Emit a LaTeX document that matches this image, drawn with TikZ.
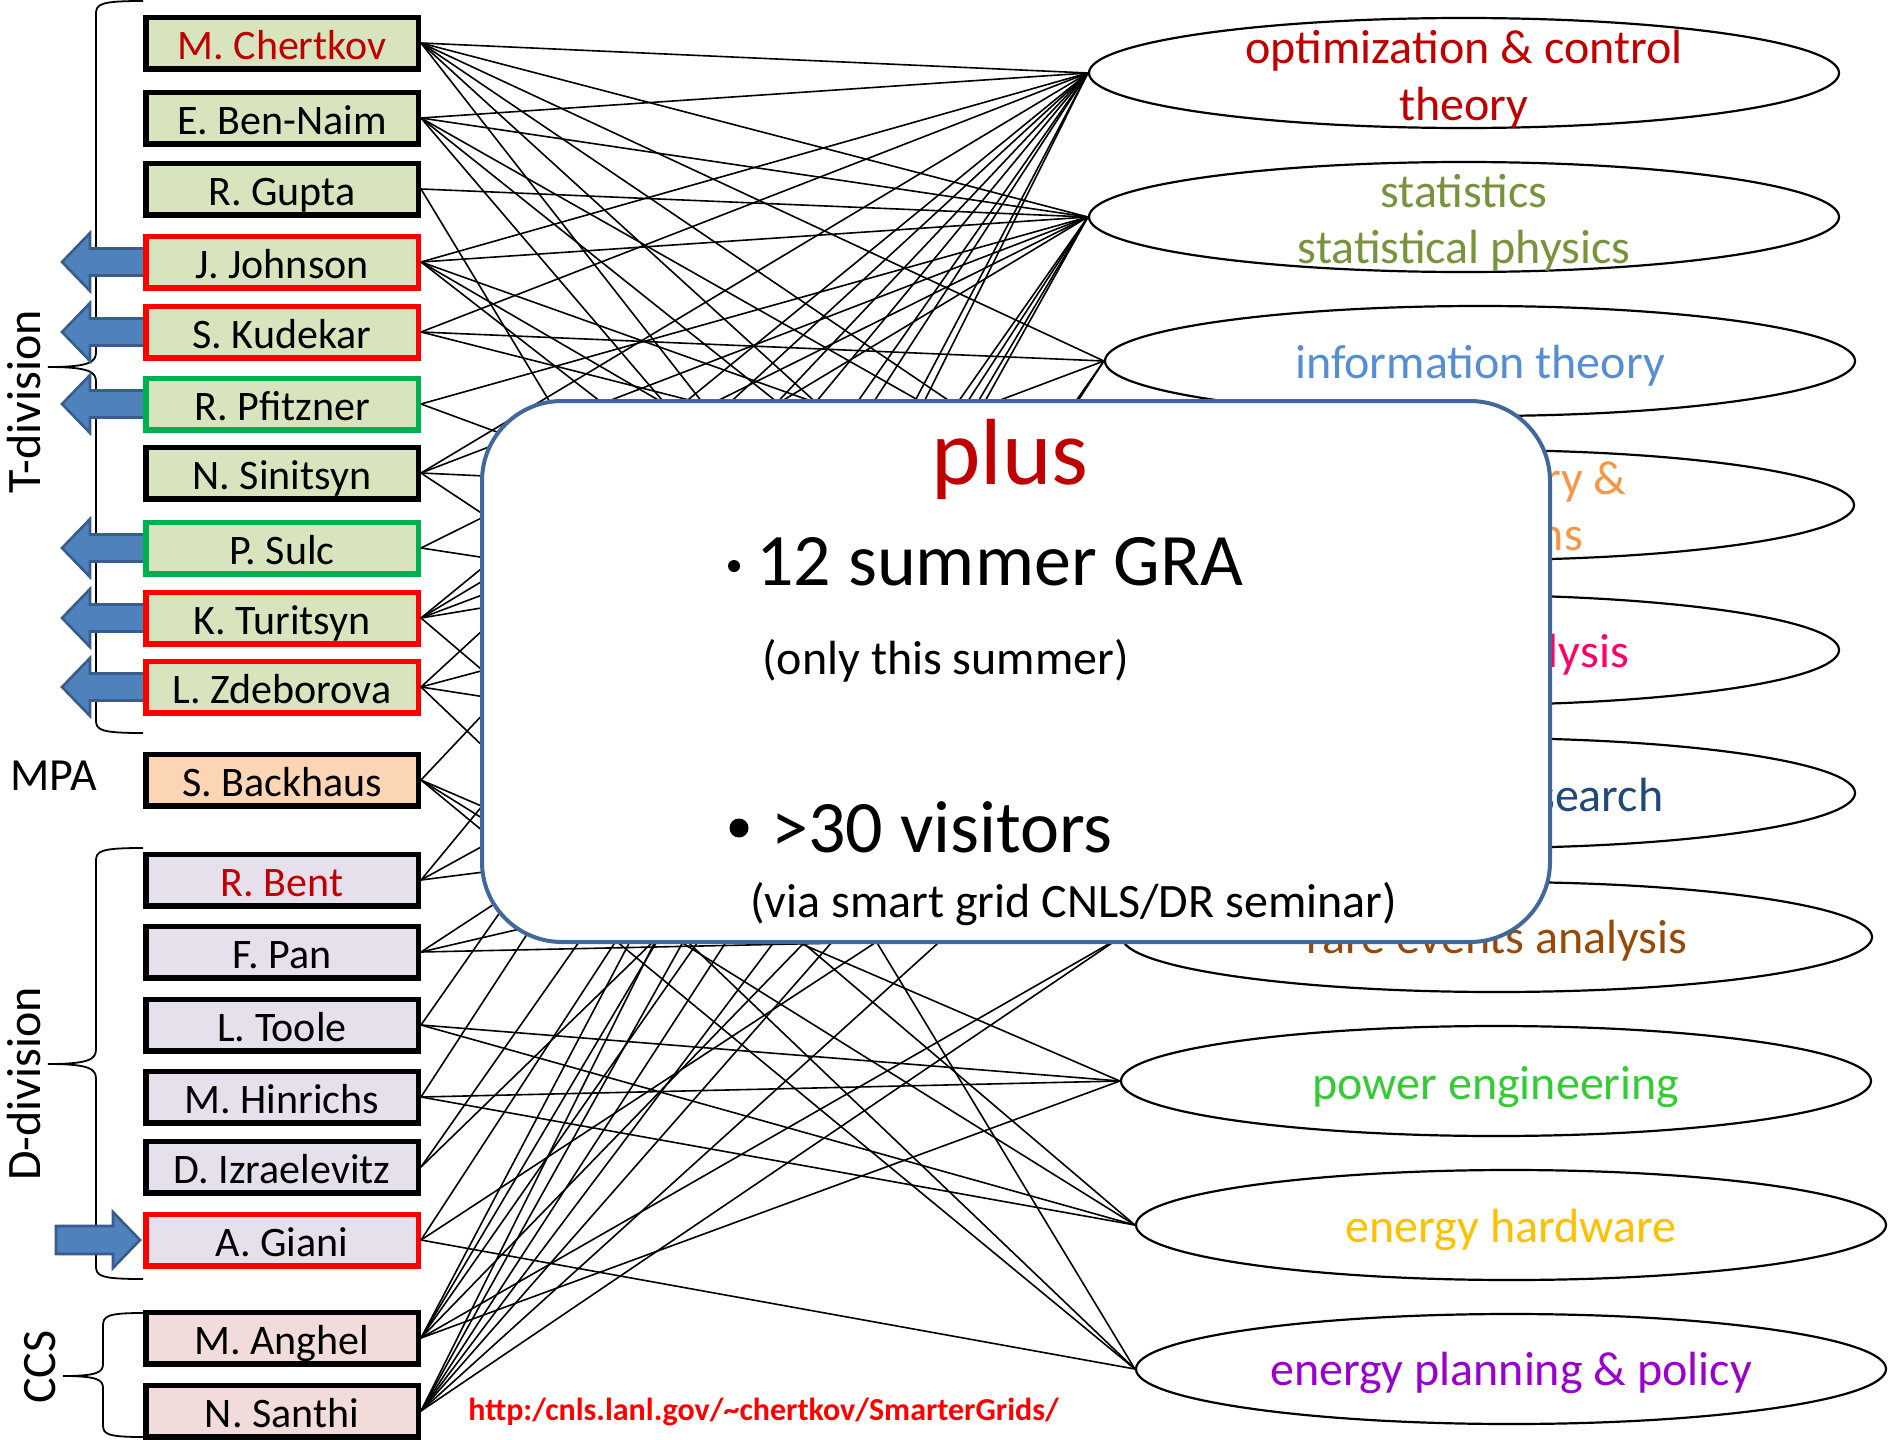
\documentclass[tikz,border=0pt]{standalone}
\usepackage{fontspec}
\setmainfont{Carlito}
\usetikzlibrary{shapes.geometric}
\definecolor{tfill}{HTML}{D7E4BD}
\definecolor{mfill}{HTML}{FCD5B5}
\definecolor{dfill}{HTML}{E6E0EC}
\definecolor{cfill}{HTML}{F2DCDB}
\definecolor{dred}{HTML}{C00000}
\definecolor{bred}{HTML}{FF0000}
\definecolor{bgreen}{HTML}{00B050}
\definecolor{arrblue}{HTML}{4F81BD}
\definecolor{arrline}{HTML}{385D8A}
\definecolor{boxline}{HTML}{41689A}
\definecolor{cstat}{HTML}{77933C}
\definecolor{cinfo}{HTML}{558ED5}
\definecolor{cgraph}{HTML}{F79646}
\definecolor{cnetw}{HTML}{FF0066}
\definecolor{coper}{HTML}{1F497D}
\definecolor{crare}{HTML}{984807}
\definecolor{cpower}{HTML}{33CC33}
\definecolor{chard}{HTML}{FFC000}
\definecolor{cplan}{HTML}{9900CC}
\begin{document}
\begin{tikzpicture}[x=0.5pt,y=-0.5pt,
  person/.style={draw,line width=2.75pt,minimum width=136.25pt,minimum height=25.75pt,
    inner sep=0pt,text height=16pt,text depth=0pt,font=\fontsize{21}{25}\selectfont},
  topic/.style={draw,ellipse,line width=1.1pt,minimum width=375pt,minimum height=55pt,inner sep=0pt},
  ttext/.style={anchor=base,inner sep=0pt,font=\fontsize{24}{29}\selectfont},
  link/.style={line width=0.8pt},
  bigarrow/.style={fill=arrblue,draw=arrline,line width=1.3pt,line join=miter},
  brace/.style={line width=0.9pt},
  grp/.style={anchor=base,inner sep=0pt,font=\fontsize{24}{29}\selectfont},
  plusbox/.style={draw=boxline,fill=white,line width=2pt,rounded corners=40pt,
    minimum width=534pt,minimum height=270.5pt},
  dot/.style={circle,fill=black,inner sep=0pt}]
\useasboundingbox (0,0) rectangle (1897,1440);
\def\outarrow#1{\draw[bigarrow] (62,#1) -- (90,#1-29) -- (90,#1-13.5) -- (147,#1-13.5)
  -- (147,#1+13.5) -- (90,#1+13.5) -- (90,#1+29) -- cycle;}

% braces and group names
\draw[brace] (143,1) .. controls (100,1) and (96,4) .. (96,14) -- (96,352)
  .. controls (96,362) and (90,367) .. (48,367) .. controls (90,367) and (96,372) .. (96,382)
  -- (96,720) .. controls (96,730) and (100,733) .. (143,733);
\draw[brace] (143,848) .. controls (100,848) and (96,851) .. (96,861) -- (96,1049)
  .. controls (96,1059) and (90,1064) .. (48,1064) .. controls (90,1064) and (96,1069) .. (96,1079)
  -- (96,1266) .. controls (96,1276) and (100,1279) .. (143,1279);
\draw[brace] (143,1313) .. controls (107,1313) and (103,1316) .. (103,1326) -- (103,1364)
  .. controls (103,1372) and (98,1376) .. (63,1376) .. controls (98,1376) and (103,1380) .. (103,1388)
  -- (103,1425) .. controls (103,1434) and (107,1437) .. (143,1437);
\node[grp,rotate=90] (tdiv) at (40,402) {T-division};
\node[grp,rotate=90] (ddiv) at (40,1084) {D-division};
\node[grp,rotate=90] (ccs) at (55,1367) {CCS};
\node[anchor=base west,inner sep=0pt,font=\fontsize{23}{28}\selectfont] (mpa) at (10,790) {MPA};

% blue arrows
\outarrow{262} \outarrow{332} \outarrow{404} \outarrow{548} \outarrow{618} \outarrow{687}
\draw[bigarrow] (140,1240) -- (113,1212) -- (113,1226) -- (56,1226) -- (56,1254)
  -- (113,1254) -- (113,1268) -- cycle;

% people
\node[person,fill=tfill] (MC) at (282,43) {\textcolor{dred}{M. Chertkov}};
\node[person,fill=tfill] (EB) at (282,118) {E. Ben-Naim};
\node[person,fill=tfill] (RG) at (282,189) {R. Gupta};
\node[person,fill=tfill,draw=bred] (JJ) at (282,262) {J. Johnson};
\node[person,fill=tfill,draw=bred] (SK) at (282,332) {S. Kudekar};
\node[person,fill=tfill,draw=bgreen] (RP) at (282,404) {R. Pfitzner};
\node[person,fill=tfill] (NSi) at (282,473) {N. Sinitsyn};
\node[person,fill=tfill,draw=bgreen] (PS) at (282,548) {P. Sulc};
\node[person,fill=tfill,draw=bred] (KT) at (282,618) {K. Turitsyn};
\node[person,fill=tfill,draw=bred] (LZ) at (282,687) {L. Zdeborova};
\node[person,fill=mfill] (SB) at (282,780) {S. Backhaus};
\node[person,fill=dfill] (RB) at (282,880) {\textcolor{dred}{R. Bent}};
\node[person,fill=dfill] (FP) at (282,952) {F. Pan};
\node[person,fill=dfill] (LT) at (282,1025) {L. Toole};
\node[person,fill=dfill] (MH) at (282,1097) {M. Hinrichs};
\node[person,fill=dfill] (DI) at (282,1167) {D. Izraelevitz};
\node[person,fill=dfill,draw=bred] (AG) at (282,1240) {A. Giani};
\node[person,fill=cfill] (MA) at (282,1338) {M. Anghel};
\node[person,fill=cfill] (NSa) at (282,1411) {N. Santhi};

% topics
\node[topic] (opt) at (1464,73) {};
\node[topic] (stat) at (1464,217) {};
\node[topic] (info) at (1480,361) {};
\node[topic] (graph) at (1479,505) {};
\node[topic] (netw) at (1464,650) {};
\node[topic] (oper) at (1480,793) {};
\node[topic] (rare) at (1497,937) {};
\node[topic] (power) at (1496,1081) {};
\node[topic] (hard) at (1511,1225) {};
\node[topic] (plan) at (1511,1369) {};

% who works on what
\foreach \t in {opt,stat,info,graph,netw,rare} \draw[link] (MC.east) -- (\t.west);
\foreach \t in {opt,stat,graph,netw,rare} \draw[link] (EB.east) -- (\t.west);
\foreach \t in {stat,plan} \draw[link] (RG.east) -- (\t.west);
\foreach \t in {opt,stat,graph,netw,oper} \draw[link] (JJ.east) -- (\t.west);
\foreach \t in {opt,info,graph} \draw[link] (SK.east) -- (\t.west);
\foreach \t in {stat,netw} \draw[link] (RP.east) -- (\t.west);
\foreach \t in {opt,stat,graph,rare} \draw[link] (NSi.east) -- (\t.west);
\foreach \t in {stat,netw} \draw[link] (PS.east) -- (\t.west);
\foreach \t in {opt,stat,info,graph,hard} \draw[link] (KT.east) -- (\t.west);
\foreach \t in {opt,graph,oper,plan} \draw[link] (LZ.east) -- (\t.west);
\foreach \t in {opt,power,hard,plan} \draw[link] (SB.east) -- (\t.west);
\foreach \t in {opt,graph,oper} \draw[link] (RB.east) -- (\t.west);
\foreach \t in {graph,oper,rare} \draw[link] (FP.east) -- (\t.west);
\foreach \t in {opt,power,hard} \draw[link] (LT.east) -- (\t.west);
\foreach \t in {opt,power,hard} \draw[link] (MH.east) -- (\t.west);
\foreach \t in {stat,graph} \draw[link] (DI.east) -- (\t.west);
\foreach \t in {stat,oper,plan} \draw[link] (AG.east) -- (\t.west);
\foreach \t in {opt,stat,info,netw,rare,power} \draw[link] (MA.east) -- (\t.west);
\foreach \t in {opt,stat,info,graph,netw,oper,rare} \draw[link] (NSa.east) -- (\t.west);

% topic names
\node[ttext,text=dred] (opt1) at (1464,63) {optimization \& control};
\node[ttext,text=dred] (opt2) at (1464,120) {theory};
\node[ttext,text=cstat] (stat1) at (1464,207) {statistics};
\node[ttext,text=cstat] (stat2) at (1464,263) {statistical physics};
\node[ttext,text=cinfo] (info1) at (1480,378) {information theory};
\node[ttext,text=cgraph] (graph1) at (1479,494) {graph theory \&};
\node[ttext,text=cgraph] (graph2) at (1479,550) {algorithms};
\node[ttext,text=cnetw] (netw1) at (1466,667) {network analysis};
\node[ttext,text=coper] (oper1) at (1470,811) {operations research};
\node[ttext,text=crare] (rare1) at (1497,953) {rare events analysis};
\node[ttext,text=cpower] (power1) at (1496,1099) {power engineering};
\node[ttext,text=chard] (hard1) at (1511,1242) {energy hardware};
\node[ttext,text=cplan] (plan1) at (1511,1385) {energy planning \& policy};

% the plus box on top
\node[plusbox] (pb) at (1016,671.5) {};
\node[anchor=base,inner sep=0pt,text=dred,font=\fontsize{47}{56}\selectfont] (plus) at (1010,484) {plus};
\node[dot,minimum size=6pt] (b1) at (734,566) {};
\node[anchor=base west,inner sep=0pt,font=\fontsize{37}{44}\selectfont] (gra) at (756,585) {12 summer GRA};
\node[anchor=base west,inner sep=0pt,font=\fontsize{24}{29}\selectfont] (only) at (762,674) {(only this summer)};
\node[dot,minimum size=9.5pt] (b2) at (739,828) {};
\node[anchor=base west,inner sep=0pt,font=\fontsize{37}{44}\selectfont] (vis) at (771,852) {>30 visitors};
\node[anchor=base west,inner sep=0pt,font=\fontsize{24}{29}\selectfont] (via) at (750,917) {(via smart grid CNLS/DR seminar)};

% web address
\node[anchor=base west,inner sep=0pt,text=bred,font=\bfseries\fontsize{16}{19}\selectfont] (url) at (468,1420)
  {http:/cnls.lanl.gov/\textasciitilde chertkov/SmarterGrids/};
\end{tikzpicture}
\end{document}
